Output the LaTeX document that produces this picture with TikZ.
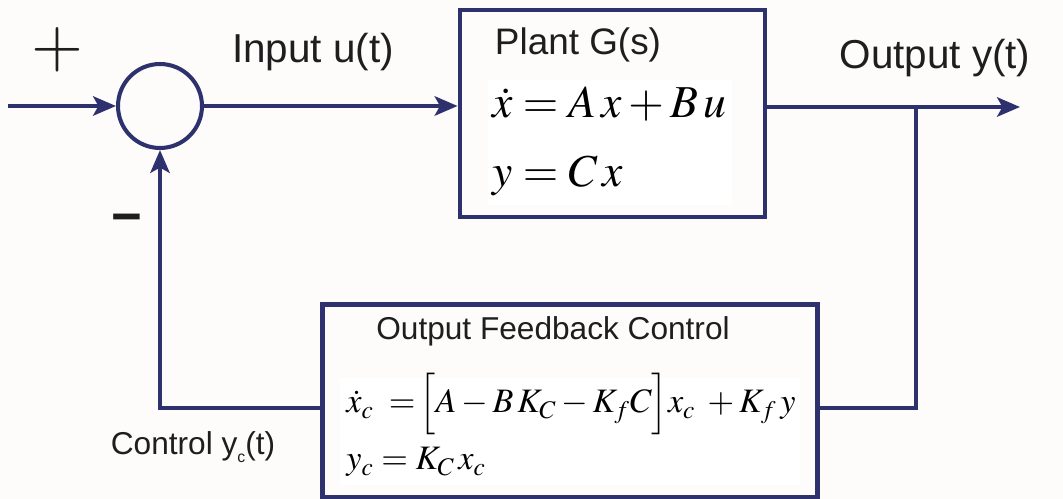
\documentclass[tikz,border=0pt]{standalone}
\usepackage{mathptmx}
\usepackage[no-math]{fontspec}
\setmainfont{Liberation Sans}
\usetikzlibrary{arrows.meta}
\definecolor{navy}{RGB}{45,50,110}
\definecolor{paper}{RGB}{253,252,251}
\definecolor{ink}{RGB}{30,30,30}

\begin{document}
\begin{tikzpicture}[x=0.02cm,y=-0.02cm,
  wire/.style={draw=navy,line width=2.3pt},
  arr/.style={wire,-{Stealth[length=13pt,width=11pt,inset=3pt]}},
  blockbox/.style={draw=navy,line width=2.8pt,rectangle,inner sep=0pt},
  lbl/.style={inner sep=0pt,text=ink},
  big/.style={font=\fontsize{23}{23}\selectfont},
  small/.style={font=\fontsize{18}{18}\selectfont},
  eqbig/.style={inner sep=0pt,anchor=base west,font=\fontsize{26}{26}\selectfont},
  eqsmall/.style={inner sep=0pt,anchor=base west,font=\fontsize{19.5}{19.5}\selectfont}]
\fill[paper] (0,0) rectangle (1063,499);
\useasboundingbox (0,0) rectangle (1063,499);

% white panels behind the equations
\fill[white] (488,80) rectangle (732,205);
\fill[white] (340,378) rectangle (800,485);

% blocks
\node[circle,draw=navy,line width=2.3pt,minimum size=1.68cm,inner sep=0pt] (sum) at (160,106) {};
\node[blockbox,minimum width=6.1cm,minimum height=4.14cm] (plant) at (612.5,113.5) {};
\node[blockbox,minimum width=9.92cm,minimum height=3.86cm] (ctrl) at (570,401) {};

\coordinate (in) at (8,106);
\coordinate (out) at (1020,107);
\coordinate (tap) at (916,107);

% connectors
\draw[arr] (in) -- (sum.west);
\draw[arr] (sum.east) -- (plant.west |- sum.east);
\draw[arr] (plant.east |- out) -- (out);
\draw[wire] (tap) |- ([yshift=-0.14cm]ctrl.east);
\draw[arr] ([yshift=-0.14cm]ctrl.west) -| (sum.south);

% signs at the summing junction
\node[lbl,font=\fontsize{38}{38}\selectfont] at (57,50) {$+$};
\node[lbl,font=\fontsize{30}{30}\selectfont\bfseries] at (127,224) {−};

% signal labels
\node[lbl,big] at (313,52) {Input u(t)};
\node[lbl,big] at (935,58) {Output y(t)};
\node[lbl,font=\fontsize{18}{18}\selectfont] at (193,447)
  {Control y\raisebox{-0.45ex}{\fontsize{9}{9}\selectfont c}(t)};

% plant
\node[lbl,font=\fontsize{21}{21}\selectfont] at (578,45) {Plant G(s)};
\node[eqbig] at (492,118) {$\dot{x} = A\,x + B\,u$};
\node[eqbig] at (492,187) {$y = C\,x$};

% controller
\node[lbl,small] at (553,331) {Output Feedback Control};
\node[eqsmall] at (346,413)
  {$\dot{x}_c \;=\!\Big[A - B\,K_C - K_f C\Big]x_c \;+K_f\,y$};
\node[eqsmall] at (346,470) {$y_c = K_C\,x_c$};
\end{tikzpicture}
\end{document}
